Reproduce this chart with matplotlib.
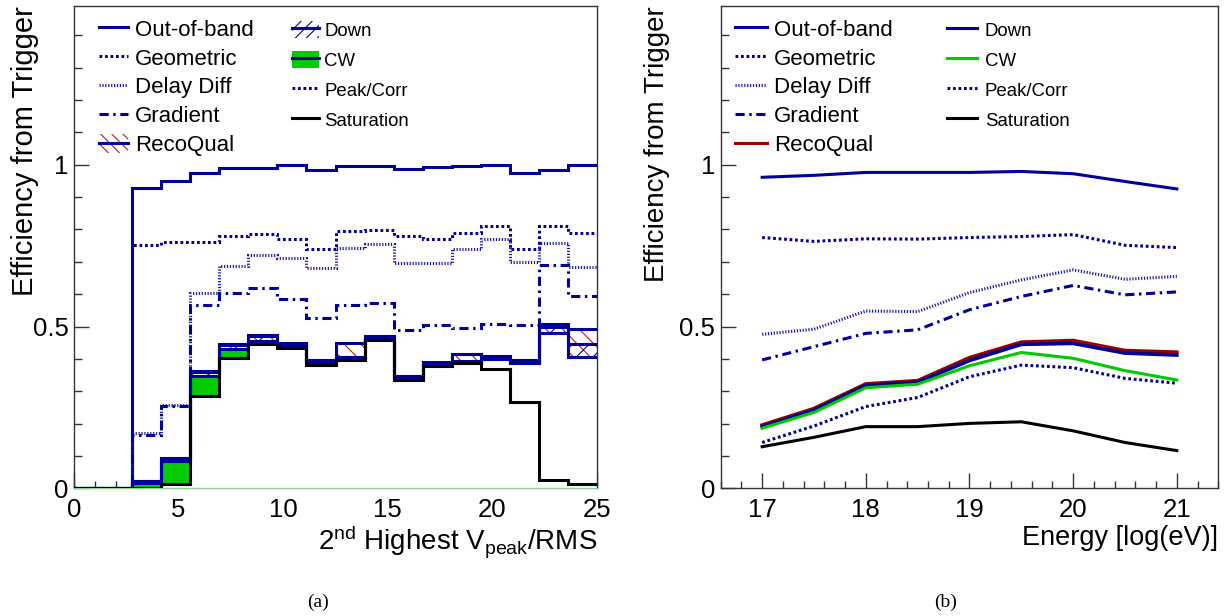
import matplotlib

matplotlib.use("Agg")
import matplotlib.pyplot as plt
import numpy as np
from matplotlib.lines import Line2D
from matplotlib.patches import Patch
from matplotlib.ticker import FuncFormatter, MultipleLocator

plt.rcParams["font.family"] = ["Liberation Sans", "DejaVu Sans"]
plt.rcParams["mathtext.fontset"] = "custom"
plt.rcParams["mathtext.rm"] = "Liberation Sans"
plt.rcParams["mathtext.it"] = "Liberation Sans:italic"
plt.rcParams["hatch.linewidth"] = 0.8

# ROOT 风格的颜色
BLUE = "#000099"
LIGHT_BLUE = "#1a1aa8"
GREEN = "#00cc00"
DARK_RED = "#990000"
HATCH_RED = "#b41e1e"
FRAME = "#333333"

# (a) 按第二高 Vpeak/RMS 分箱（18 个等宽箱，0 到 25）
N_BINS = 18
SNR_EDGES = np.linspace(0, 25, N_BINS + 1)
OOB_SNR = [0, 0, 0.928, 0.950, 0.974, 0.990, 0.990, 0.998, 0.985,
           0.995, 0.997, 0.987, 0.993, 0.995, 0.999, 0.974, 0.985, 0.998]
GEOM_SNR = [0, 0, 0.753, 0.760, 0.760, 0.781, 0.785, 0.771, 0.740,
            0.796, 0.799, 0.781, 0.770, 0.789, 0.812, 0.739, 0.812, 0.789]
DELAY_SNR = [0, 0, 0.170, 0.258, 0.603, 0.686, 0.722, 0.713, 0.680,
             0.744, 0.755, 0.696, 0.696, 0.739, 0.771, 0.698, 0.758, 0.684]
GRAD_SNR = [0, 0, 0.166, 0.255, 0.567, 0.605, 0.619, 0.586, 0.526,
            0.567, 0.572, 0.489, 0.505, 0.497, 0.507, 0.505, 0.691, 0.593]
RECO_SNR = [0, 0, 0.024, 0.093, 0.362, 0.445, 0.474, 0.449, 0.396,
            0.448, 0.470, 0.346, 0.391, 0.416, 0.408, 0.396, 0.507, 0.492]
DOWN_SNR = [0, 0, 0.023, 0.092, 0.360, 0.442, 0.470, 0.446, 0.393,
            0.407, 0.467, 0.344, 0.389, 0.395, 0.405, 0.393, 0.500, 0.445]
CW_SNR = [0, 0, 0.016, 0.085, 0.347, 0.432, 0.456, 0.440, 0.387,
          0.402, 0.463, 0.341, 0.385, 0.392, 0.401, 0.389, 0.480, 0.405]
PEAK_SNR = [0, 0, 0.0, 0.013, 0.287, 0.404, 0.447, 0.433, 0.381,
            0.398, 0.459, 0.335, 0.379, 0.386, 0.400, 0.388, 0.479, 0.405]
SAT_SNR = [0, 0, 0.0, 0.013, 0.287, 0.404, 0.447, 0.433, 0.381,
           0.398, 0.459, 0.335, 0.379, 0.386, 0.369, 0.266, 0.026, 0.015]

# (b) 按能量 log(eV)
ENERGY = [17, 17.5, 18, 18.5, 19, 19.5, 20, 20.5, 21]
OOB_E = [0.961, 0.967, 0.976, 0.976, 0.976, 0.979, 0.972, 0.948, 0.925]
GEOM_E = [0.775, 0.763, 0.771, 0.770, 0.775, 0.778, 0.784, 0.751, 0.744]
DELAY_E = [0.476, 0.492, 0.548, 0.546, 0.605, 0.644, 0.675, 0.646, 0.655]
GRAD_E = [0.397, 0.438, 0.479, 0.490, 0.552, 0.593, 0.627, 0.598, 0.607]
RECO_E = [0.196, 0.247, 0.323, 0.333, 0.404, 0.452, 0.457, 0.426, 0.421]
DOWN_E = [0.191, 0.242, 0.318, 0.328, 0.395, 0.445, 0.448, 0.418, 0.412]
CW_E = [0.186, 0.235, 0.311, 0.322, 0.379, 0.420, 0.402, 0.364, 0.335]
PEAK_E = [0.142, 0.193, 0.253, 0.281, 0.345, 0.381, 0.373, 0.340, 0.325]
SAT_E = [0.129, 0.158, 0.191, 0.191, 0.201, 0.206, 0.178, 0.142, 0.117]

LW = 2.2
DOTTED = (0, (0.9, 0.9))
FINE_DOTTED = (0, (0.4, 0.55))
DASH_DOT = (0, (3.0, 1.5, 0.8, 1.5))

UPPER_STYLES = [
    ("Out-of-band", BLUE, "-"),
    ("Geometric", BLUE, DOTTED),
    ("Delay Diff", LIGHT_BLUE, FINE_DOTTED),
    ("Gradient", BLUE, DASH_DOT),
]


def style_axes(ax, xlim, x_major, x_minor):
    """ROOT 风格坐标轴：刻度朝内，只在左侧和下方。"""
    ax.set_xlim(*xlim)
    ax.set_ylim(0, 1.49)
    ax.xaxis.set_major_locator(MultipleLocator(x_major))
    ax.xaxis.set_minor_locator(MultipleLocator(x_minor))
    ax.yaxis.set_major_locator(MultipleLocator(0.5))
    ax.yaxis.set_minor_locator(MultipleLocator(0.1))
    fmt = FuncFormatter(lambda v, _: f"{v:g}")
    ax.xaxis.set_major_formatter(fmt)
    ax.yaxis.set_major_formatter(fmt)
    ax.tick_params(which="both", direction="in", top=False, right=False,
                   labelsize=18.5, color=FRAME, width=1.0)
    ax.tick_params(axis="x", which="both", pad=7)
    ax.tick_params(axis="y", which="both", pad=4)
    ax.tick_params(which="major", length=10.8)
    ax.tick_params(which="minor", length=5.4)
    for spine in ax.spines.values():
        spine.set_linewidth(1.0)
        spine.set_color(FRAME)


def add_legends(ax, left_handles, right_handles, col1_x, col2_x, pad1, pad2, len1, len2):
    """两列图例，左列字体大，右列字体小。"""
    col1 = ax.legend(left_handles, ["Out-of-band", "Geometric", "Delay Diff", "Gradient", "RecoQual"],
                     loc="upper left", bbox_to_anchor=(col1_x, 0.973), frameon=False,
                     fontsize=16, borderpad=0, borderaxespad=0, labelspacing=0.31,
                     handlelength=len1, handleheight=0.9, handletextpad=pad1)
    ax.add_artist(col1)
    ax.legend(right_handles, ["Down", "CW", "Peak/Corr", "Saturation"],
              loc="upper left", bbox_to_anchor=(col2_x, 0.969), frameon=False,
              fontsize=13.4, borderpad=0, borderaxespad=0, labelspacing=0.61,
              handlelength=len2, handleheight=1.0, handletextpad=pad2)


def upper_handles():
    return [Line2D([], [], color=c, linestyle=ls, linewidth=LW) for _, c, ls in UPPER_STYLES]


def plot_snr_panel(ax):
    """(a) 直方图：上层为线，下层带填充与阴影。"""
    ax.set_axisbelow(True)
    ax.stairs(RECO_SNR, SNR_EDGES, fill=True, facecolor="none", edgecolor=HATCH_RED,
              hatch="\\\\", linewidth=0, zorder=1.0)
    ax.stairs(DOWN_SNR, SNR_EDGES, fill=True, facecolor="none", edgecolor=BLUE,
              hatch="//", linewidth=0, zorder=1.1)
    ax.stairs(CW_SNR, SNR_EDGES, fill=True, facecolor=GREEN, edgecolor="none",
              linewidth=0, zorder=1.2)
    ax.stairs(PEAK_SNR, SNR_EDGES, fill=True, facecolor="white", edgecolor="none",
              linewidth=0, zorder=1.3)

    for values, (_, color, ls) in zip([OOB_SNR, GEOM_SNR, DELAY_SNR, GRAD_SNR], UPPER_STYLES):
        ax.stairs(values, SNR_EDGES, baseline=None, color=color, linestyle=ls,
                  linewidth=LW, zorder=3)
    ax.stairs(RECO_SNR, SNR_EDGES, baseline=None, color=BLUE, linewidth=LW, zorder=3.1)
    ax.stairs(DOWN_SNR, SNR_EDGES, baseline=None, color=BLUE, linewidth=LW, zorder=3.1)
    ax.stairs(CW_SNR, SNR_EDGES, baseline=None, color=BLUE, linewidth=LW, zorder=3.1)
    ax.stairs(PEAK_SNR, SNR_EDGES, baseline=None, color=BLUE, linestyle=DOTTED,
              linewidth=LW, zorder=3.2)
    ax.stairs(SAT_SNR, SNR_EDGES, baseline=None, color="black", linewidth=LW, zorder=3.3)

    style_axes(ax, (0, 25), 5, 1)
    ax.spines["bottom"].set_color("#8fcf8f")

    blue_line = Line2D([], [], color=BLUE, linewidth=LW)
    reco = (Patch(facecolor="none", edgecolor=HATCH_RED, hatch="\\\\\\", linewidth=0), blue_line)
    down = (Patch(facecolor="none", edgecolor=BLUE, hatch="///", linewidth=0), blue_line)
    cw = (Patch(facecolor=GREEN, edgecolor="none", linewidth=0), blue_line)
    peak = Line2D([], [], color=BLUE, linestyle=DOTTED, linewidth=LW)
    sat = Line2D([], [], color="black", linewidth=LW)
    add_legends(ax, upper_handles() + [reco], [down, cw, peak, sat],
                0.0484, 0.416, 0.3, 0.28, 1.3, 1.47)

    ax.set_xlabel(r"2$^{\rm nd}$ Highest V$_{\rm peak}$/RMS", fontsize=20, loc="right")
    ax.xaxis.set_label_coords(1.0, -0.072)
    ax.set_ylabel("Efficiency from Trigger", fontsize=21, loc="top")
    ax.yaxis.set_label_coords(-0.067, 1.0)


def plot_energy_panel(ax):
    """(b) 折线图：效率随能量变化。"""
    for values, (_, color, ls) in zip([OOB_E, GEOM_E, DELAY_E, GRAD_E], UPPER_STYLES):
        ax.plot(ENERGY, values, color=color, linestyle=ls, linewidth=LW)
    ax.plot(ENERGY, RECO_E, color=DARK_RED, linewidth=LW + 0.4)
    ax.plot(ENERGY, DOWN_E, color=BLUE, linewidth=LW + 0.4)
    ax.plot(ENERGY, CW_E, color=GREEN, linewidth=LW)
    ax.plot(ENERGY, PEAK_E, color=BLUE, linestyle=DOTTED, linewidth=LW)
    ax.plot(ENERGY, SAT_E, color="black", linewidth=LW)

    style_axes(ax, (16.6, 21.4), 1, 0.2)

    reco = Line2D([], [], color=DARK_RED, linewidth=LW)
    down = Line2D([], [], color=BLUE, linewidth=LW)
    cw = Line2D([], [], color=GREEN, linewidth=LW)
    peak = Line2D([], [], color=BLUE, linestyle=DOTTED, linewidth=LW)
    sat = Line2D([], [], color="black", linewidth=LW)
    add_legends(ax, upper_handles() + [reco], [down, cw, peak, sat],
                0.0287, 0.454, 0.33, 0.41, 1.43, 1.65)

    ax.set_xlabel("Energy [log(eV)]", fontsize=19.5, loc="right")
    ax.xaxis.set_label_coords(1.0, -0.075)
    ax.set_ylabel("Efficiency from Trigger", fontsize=20, loc="top")
    ax.yaxis.set_label_coords(-0.102, 1.0)


def main():
    fig = plt.figure(figsize=(12.29, 6.16), dpi=100)
    ax_a = fig.add_axes([0.0602, 0.207, 0.4256, 0.7833])
    ax_b = fig.add_axes([0.5864, 0.207, 0.4049, 0.7833])

    plot_snr_panel(ax_a)
    plot_energy_panel(ax_b)

    fig.text(318 / 1229, 1 - 602 / 616, "(a)", ha="center", va="center",
             family=["Liberation Serif", "DejaVu Serif"], fontsize=14)
    fig.text(946 / 1229, 1 - 602 / 616, "(b)", ha="center", va="center",
             family=["Liberation Serif", "DejaVu Serif"], fontsize=14)

    fig.savefig("out.png", dpi=100)
    plt.close(fig)


if __name__ == "__main__":
    main()
